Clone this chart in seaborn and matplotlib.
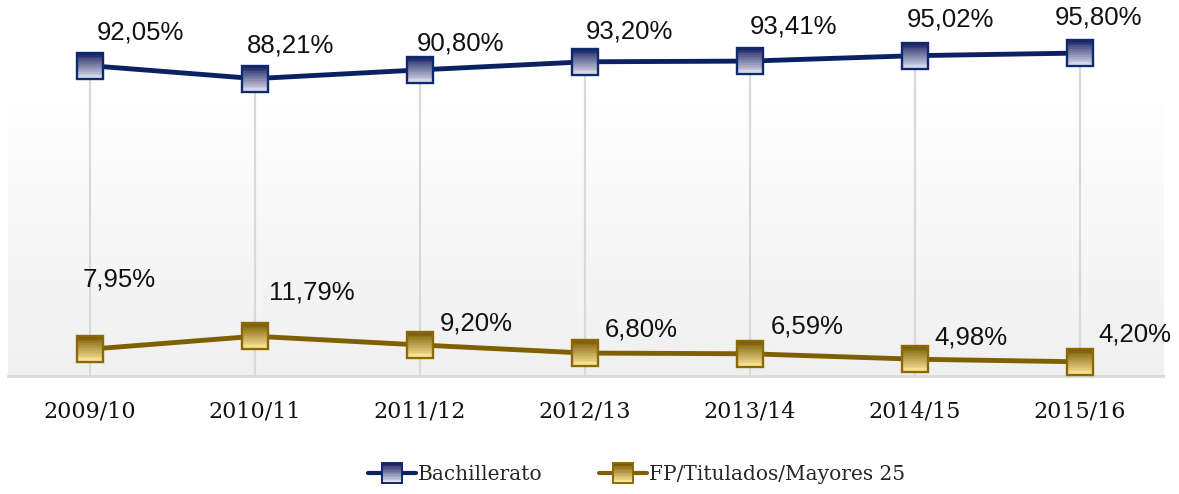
import numpy as np
import pandas as pd
import matplotlib
matplotlib.use("Agg")
import matplotlib.pyplot as plt
import seaborn as sns
from matplotlib.path import Path
from matplotlib.markers import MarkerStyle
from matplotlib.lines import Line2D
from matplotlib.legend_handler import HandlerBase
from matplotlib.colors import LinearSegmentedColormap, to_rgb

# data
cursos = ["2009/10", "2010/11", "2011/12", "2012/13", "2013/14", "2014/15", "2015/16"]
bachillerato = [92.05, 88.21, 90.80, 93.20, 93.41, 95.02, 95.80]
fp_titulados = [7.95, 11.79, 9.20, 6.80, 6.59, 4.98, 4.20]

# label offsets in pixels (dx, dy)
off_bach = [(50, 33), (36, 33), (40, 26), (44, 30), (43, 35), (35, 36), (18, 36)]
off_fp = [(29, 70), (57, 44), (56, 21), (56, 24), (57, 27), (56, 22), (55, 27)]

NAVY = "#0c2163"
GOLD = "#7f6000"
series = [
    ("Bachillerato", bachillerato, NAVY, "#1c2365", "#e2e5f0", "#0e2a6e", off_bach),
    ("FP/Titulados/Mayores 25", fp_titulados, GOLD, "#7a5a00", "#ffeaa0", "#8a6a00", off_fp),
]

sns.set_style("white")
plt.rcParams["font.family"] = ["DejaVu Serif"]

fig = plt.figure(figsize=(11.79, 4.94), dpi=100)
ax = fig.add_axes([0.0064, 0.2389, 0.9797, 0.737])

x = np.arange(len(cursos))

# background gradient
cmap = LinearSegmentedColormap.from_list("bg", ["#f0f0f0", "#ffffff"])
yy = np.linspace(0, 108, 200)
grad = np.clip(yy / 85.0, 0, 1)[:, None]
ax.imshow(grad, extent=(-0.5, 6.5, 0, 108), origin="lower", aspect="auto",
          cmap=cmap, vmin=0, vmax=1, zorder=0)

# vertical grid lines
ax.vlines(x, 0, bachillerato, color="#d9d9d9", lw=1.6, zorder=1)

N = 14
strip_markers = []
for i in range(N):
    y0 = -1 + 2 * i / N
    y1 = min(y0 + 2 / N + 0.03, 1)
    strip_markers.append(MarkerStyle(Path([(-1, y0), (1, y0), (1, y1), (-1, y1), (-1, y0)],
                                          [Path.MOVETO, Path.LINETO, Path.LINETO, Path.LINETO, Path.CLOSEPOLY])))


def strip_colors(top, bot):
    ct, cb = np.array(to_rgb(top)), np.array(to_rgb(bot))
    return [cb * (1 - i / (N - 1)) + ct * i / (N - 1) for i in range(N)]


class GradHandler(HandlerBase):
    def __init__(self, lc, top, bot, edge, ms):
        super().__init__()
        self.lc, self.top, self.bot, self.edge, self.ms = lc, top, bot, edge, ms

    def create_artists(self, legend, orig_handle, xdescent, ydescent, width, height, fontsize, trans):
        yc = height / 2 - ydescent
        xc = width / 2 - xdescent
        arts = [Line2D([-xdescent, width - xdescent], [yc, yc], color=self.lc, lw=3, transform=trans)]
        for m, c in zip(strip_markers, strip_colors(self.top, self.bot)):
            arts.append(Line2D([xc], [yc], ls="none", marker=m, ms=self.ms, mfc=c, mew=0, transform=trans))
        arts.append(Line2D([xc], [yc], ls="none", marker="s", ms=self.ms, mfc="none",
                           mec=self.edge, mew=1.4, transform=trans))
        return arts


MS = 19
legend_handles = []
handler_map = {}
for name, vals, lc, top, bot, edge, offs in series:
    df = pd.DataFrame({"curso": x, "valor": vals})
    sns.lineplot(data=df, x="curso", y="valor", color=lc, lw=3.5, ax=ax, zorder=3)
    for m, c in zip(strip_markers, strip_colors(top, bot)):
        ax.plot(x, vals, ls="none", marker=m, ms=MS, mfc=c, mew=0, zorder=4, clip_on=False)
    ax.plot(x, vals, ls="none", marker="s", ms=MS, mfc="none", mec=edge, mew=1.7, zorder=5, clip_on=False)
    h = Line2D([0], [0], color=lc)
    legend_handles.append(h)
    handler_map[h] = GradHandler(lc, top, bot, edge, 14)
    for xi, v, (dx, dy) in zip(x, vals, offs):
        ax.annotate(f"{v:.2f}%".replace(".", ","), (xi, v), xytext=(dx, dy),
                    textcoords="offset pixels", ha="center", va="center",
                    fontsize=18.5, family=["Liberation Sans", "DejaVu Sans"], color="#111111",
                    zorder=6, annotation_clip=False)

ax.set_xlim(-0.5, 6.5)
ax.set_ylim(0, 108)
ax.set_xlabel("")
ax.set_ylabel("")
ax.set_yticks([])
ax.set_xticks(x)
ax.set_xticklabels(cursos, fontsize=16, color="#111111")
ax.set_xticks(np.arange(-0.5, 7, 1), minor=True)
ax.tick_params(axis="x", which="major", length=0, pad=18)
ax.tick_params(axis="x", which="minor", length=9, width=1.6, color="#d9d9d9", direction="out")
for s in ["top", "left", "right"]:
    ax.spines[s].set_visible(False)
ax.spines["bottom"].set_color("#d9d9d9")
ax.spines["bottom"].set_linewidth(2)
ax.spines["bottom"].set_zorder(2)

fig.legend(legend_handles, [s[0] for s in series], loc="center", bbox_to_anchor=(0.54, 0.04),
           ncol=2, frameon=False, fontsize=14.5, handlelength=2.4, columnspacing=2.8,
           handletextpad=0.1, handler_map=handler_map)

fig.savefig("out.png", dpi=100)
